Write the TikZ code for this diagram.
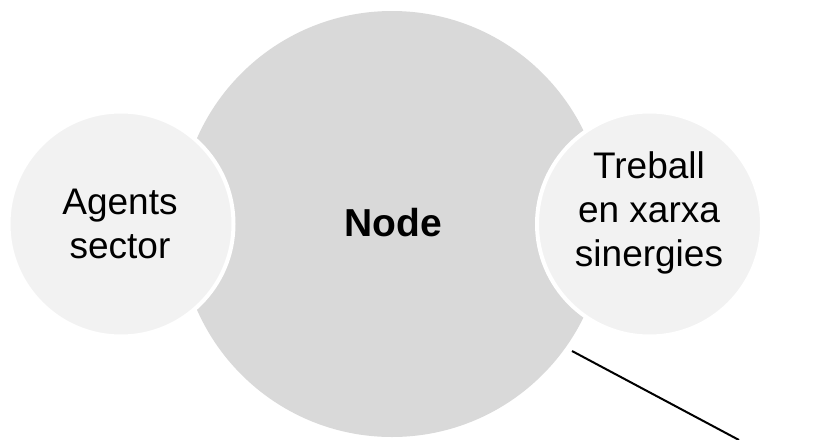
\documentclass[tikz,border=0pt]{standalone}
\usepackage{fontspec}
\setmainfont{Liberation Sans}
\definecolor{bigfill}{HTML}{D9D9D9}
\definecolor{smallfill}{HTML}{F2F2F2}
\begin{document}
\begin{tikzpicture}[x=1pt,y=-1pt,
  bigc/.style={circle,fill=bigfill,minimum size=426pt,inner sep=0pt},
  smallc/.style={circle,fill=smallfill,draw=white,line width=4pt,minimum size=225pt,inner sep=0pt},
  lbl/.style={font=\fontsize{37}{44}\selectfont,align=center,text=black}]
\useasboundingbox (0,0) rectangle (821,439);
\fill[white] (0,0) rectangle (821,439);
\node[bigc] (node) at (392,224) {};
\node[smallc] (agents) at (121,224) {};
\node[smallc] (treball) at (649.5,224) {};
\node[lbl,font=\fontsize{39}{46}\selectfont\bfseries] at (393,222.5) {Node};
\node[lbl] at (120,224) {Agents\\sector};
\node[lbl] at (649,212.5) {Treball\\en xarxa\\sinergies};
\coordinate (ls) at (572,351);
\coordinate (le) at (739,440);
\draw[line width=2pt] (ls) -- (le);
\end{tikzpicture}
\end{document}
